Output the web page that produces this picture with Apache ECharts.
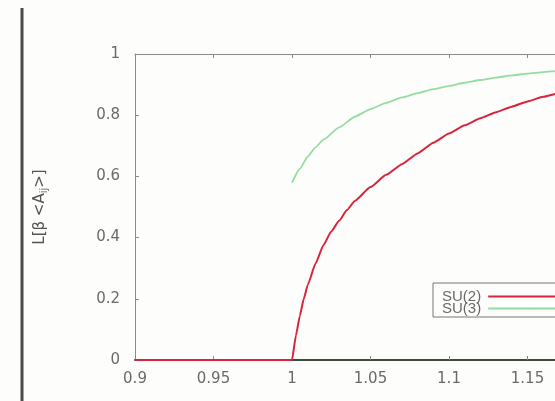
<!DOCTYPE html>
<html>
<head>
<meta charset="utf-8">
<script src="https://cdn.jsdelivr.net/npm/echarts@6/dist/echarts.min.js"></script>
<style>
  html, body { margin: 0; padding: 0; background: #fdfdfb; }
  #chart { width: 555px; height: 401px; }
</style>
</head>
<body>
<div id="chart"></div>
<script>
// Order parameter curves for SU(2) and SU(3) versus coupling ratio
const su2X = [0.9, 0.95, 1.0, 1.0025, 1.005, 1.0075, 1.01, 1.015, 1.02, 1.025, 1.03, 1.035, 1.04, 1.05, 1.06, 1.07, 1.08, 1.09, 1.10, 1.11, 1.12, 1.13, 1.14, 1.15, 1.16, 1.17, 1.18, 1.19, 1.2];
const su2Y = [0, 0, 0, 0.08, 0.145, 0.2, 0.245, 0.315, 0.375, 0.42, 0.455, 0.49, 0.52, 0.565, 0.605, 0.64, 0.675, 0.71, 0.74, 0.767, 0.79, 0.81, 0.828, 0.845, 0.86, 0.872, 0.883, 0.893, 0.902];

const su3X = [1.0, 1.005, 1.01, 1.015, 1.02, 1.03, 1.04, 1.05, 1.06, 1.07, 1.08, 1.09, 1.10, 1.11, 1.12, 1.13, 1.14, 1.15, 1.16, 1.17, 1.18, 1.2];
const su3Y = [0.58, 0.625, 0.665, 0.695, 0.72, 0.76, 0.795, 0.82, 0.84, 0.858, 0.872, 0.885, 0.896, 0.906, 0.915, 0.923, 0.93, 0.936, 0.941, 0.945, 0.949, 0.955];

const xTicks = [0.9, 0.95, 1, 1.05, 1.1, 1.15, 1.2];
const yTicks = [0, 0.2, 0.4, 0.6, 0.8, 1];

const seriesNames = ['SU(2)', 'SU(3)'];

const zip = (xs, ys) => xs.map((x, i) => [x, ys[i]]);
const pick = ticks => v => {
  const t = ticks.find(t => Math.abs(t - v) < 1e-9);
  return t === undefined ? '' : String(t);
};

const textColor = '#6a6a6a';
const frameColor = '#8a8a8a';
const font = 'DejaVu Sans, Verdana, sans-serif';
const legendFont = 'Liberation Sans, Arial, sans-serif';

const chart = echarts.init(document.getElementById('chart'), null, { renderer: 'canvas' });

const axisCommon = {
  type: 'value',
  splitLine: { show: false },
  axisTick: { show: true, inside: true, length: 4, lineStyle: { color: frameColor, width: 1 } },
  axisLine: { show: true, onZero: false, lineStyle: { color: frameColor, width: 1 } }
};

chart.setOption({
  animation: false,
  backgroundColor: '#fdfdfb',
  // the plot frame runs past the right edge of the canvas
  grid: { left: 135, top: 54, width: 471, height: 306, outerBoundsMode: 'none', containLabel: false },
  graphic: [
    {
      type: 'line',
      shape: { x1: 22, y1: 8, x2: 22, y2: 401 },
      style: { stroke: '#4a4a4a', lineWidth: 3 }
    }
  ],
  legend: {
    orient: 'vertical',
    left: 433,
    top: 283,
    align: 'right',
    itemWidth: 90,
    itemHeight: 2,
    itemGap: -3,
    padding: [6, 4, 1, 9],
    borderColor: '#777',
    borderWidth: 1,
    backgroundColor: '#fdfdfb',
    textStyle: { color: textColor, fontSize: 15, fontFamily: legendFont, padding: [0, 2, 0, 0] },
    data: seriesNames
  },
  xAxis: [
    Object.assign({}, axisCommon, {
      min: 0.9, max: 1.2, interval: 0.05,
      position: 'bottom',
      axisLine: { show: true, onZero: false, lineStyle: { color: '#3f4a3a', width: 2 } },
      axisLabel: { color: textColor, fontSize: 15, fontFamily: font, margin: 12, formatter: pick(xTicks) }
    }),
    Object.assign({}, axisCommon, {
      min: 0.9, max: 1.2, interval: 0.05,
      position: 'top',
      axisLabel: { show: false }
    })
  ],
  yAxis: [
    Object.assign({}, axisCommon, {
      min: 0, max: 1, interval: 0.2,
      position: 'left',
      axisLabel: { color: textColor, fontSize: 15, fontFamily: font, margin: 15, formatter: pick(yTicks) },
      name: '{a|L[β <A}{s|ij}{a|>]}',
      nameLocation: 'middle',
      nameGap: 86,
      nameRotate: 90,
      nameTextStyle: {
        rich: {
          a: { color: '#555', fontSize: 15, fontFamily: font },
          s: { color: '#555', fontSize: 10, fontFamily: font, verticalAlign: 'bottom', padding: [7, 0, 0, 0] }
        }
      }
    }),
    Object.assign({}, axisCommon, {
      min: 0, max: 1, interval: 0.2,
      position: 'right',
      axisLabel: { show: false }
    })
  ],
  series: [
    {
      name: seriesNames[0],
      type: 'line',
      data: zip(su2X, su2Y),
      smooth: 0.15,
      smoothMonotone: 'x',
      showSymbol: false,
      symbol: 'none',
      lineStyle: { color: '#d8243c', width: 2 },
      itemStyle: { color: '#d8243c' }
    },
    {
      name: seriesNames[1],
      type: 'line',
      data: zip(su3X, su3Y),
      smooth: 0.15,
      smoothMonotone: 'x',
      showSymbol: false,
      symbol: 'none',
      lineStyle: { color: '#96dca2', width: 1.8 },
      itemStyle: { color: '#96dca2' }
    }
  ]
});
</script>
</body>
</html>
